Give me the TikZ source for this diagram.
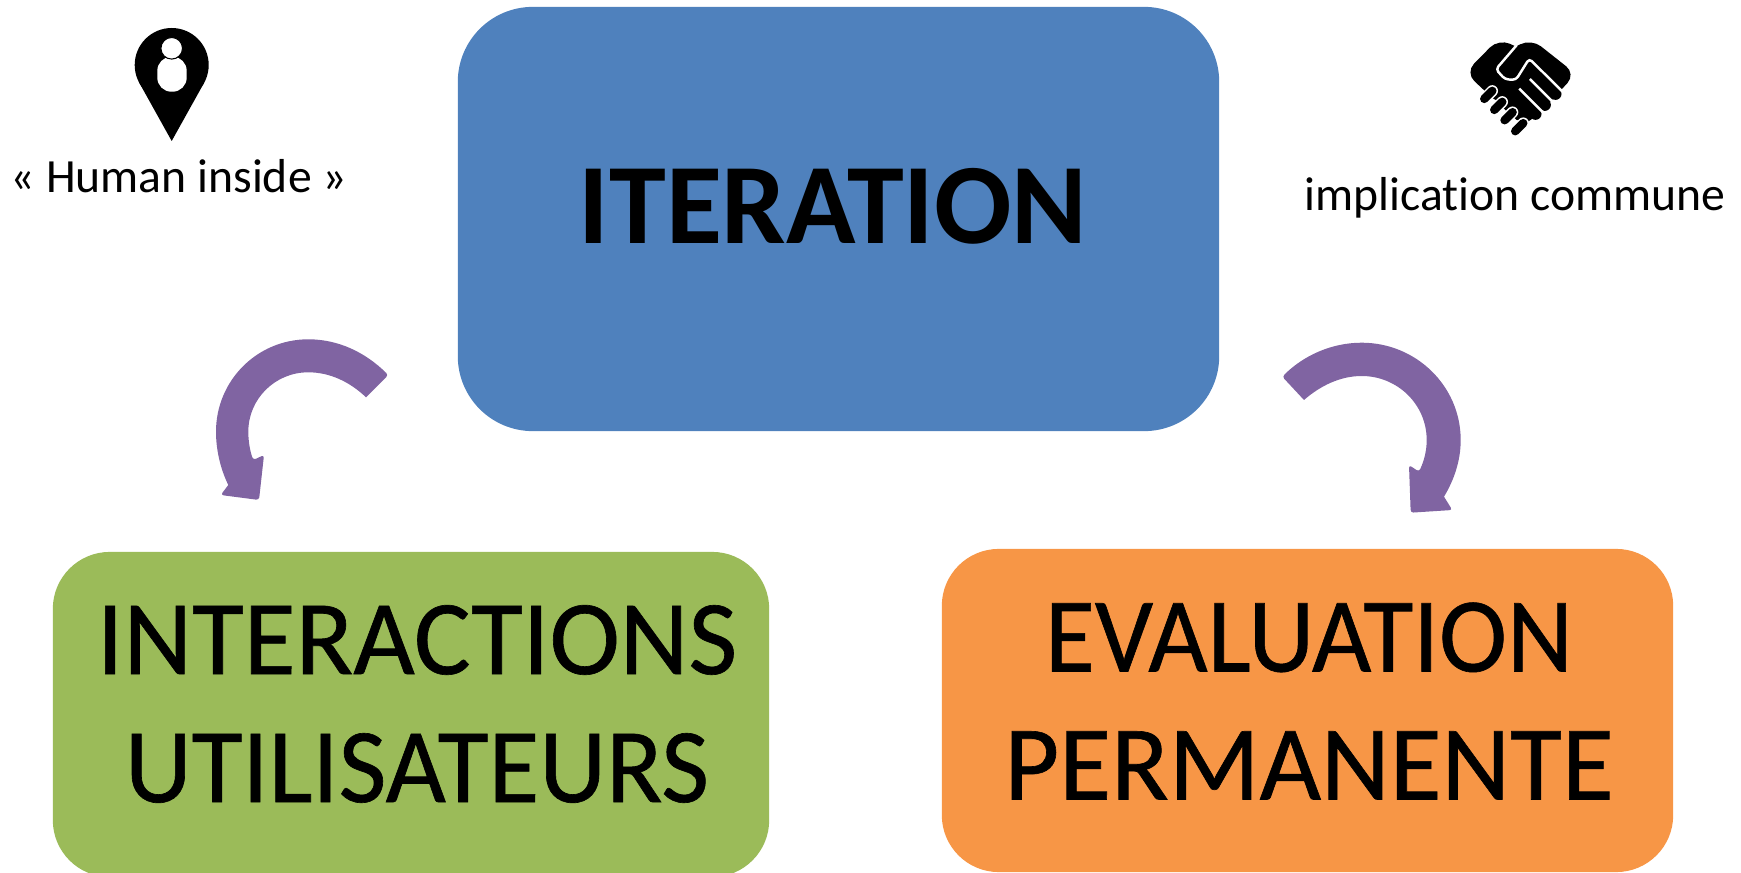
\documentclass[tikz,border=0pt]{standalone}
\usepackage{fontspec}
\setmainfont{Carlito}[Ligatures=NoCommon]
\newfontfamily\heavyfont{Carlito}[Ligatures=NoCommon, FakeBold=0.6]
\definecolor{iterblue}{HTML}{4F81BD}
\definecolor{usergreen}{HTML}{9BBB59}
\definecolor{evalorange}{HTML}{F79646}
\definecolor{turnpurple}{HTML}{8064A2}
\tikzset{
	bigbox/.style={rounded corners=#1, inner sep=0pt},
	biglabel/.style={inner sep=0pt, align=center, font=\heavyfont\fontsize{30.2}{36.4}\selectfont},
	smalllabel/.style={inner sep=0pt, anchor=base, font=\fontsize{13.55}{15}\selectfont},
	turn/.style={fill=turnpurple, sharp corners},
	tip/.style={rounded corners=0.8pt},
	gap/.style={white, line width=0.7pt},
	finger/.style={black, line width=1.2mm, line cap=round},
	knuckle/.style={black, line width=0.85mm, line cap=round},
	knucklegap/.style={white, line width=1.15mm, line cap=round}
}
\begin{document}
\begin{tikzpicture}[x=0.01cm, y=-0.01cm]
	\clip (0,0) rectangle (1741,873);
	\node[bigbox=0.75cm, fill=iterblue, minimum width=7.61cm, minimum height=4.24cm] (iter) at (838.5,219) {};
	\node[bigbox=0.57cm, fill=usergreen, minimum width=7.16cm, minimum height=3.25cm] (user) at (411,714.5) {};
	\node[bigbox=0.57cm, fill=evalorange, minimum width=7.31cm, minimum height=3.23cm] (eval) at (1307.5,710.5) {};
	\node[biglabel, font=\fontsize{32.6}{36}\selectfont\bfseries] (iterlabel) at (833,206.5) {ITERATION};
	\node[biglabel] (userlabel) at (417,704) {INTERACTIONS\\\scalebox{0.98}[1]{UTILISATEURS}};
	\node[biglabel] (evallabel) at (1309,701) {\scalebox{0.965}[1]{EVALUATION}\\PERMANENTE};
	\node[smalllabel] (humanlabel) at (179,193) {« Human inside »};
	\node[smalllabel] (communelabel) at (1515,211) {implication commune};
	% left arrow
	\path[turn] (388.3,375) .. controls (365,352) and (338,339.3) .. (308.3,339.3)
		.. controls (257,339.3) and (216,380.7) .. (216,431.7)
		.. controls (216,449) and (220,468) .. (228.3,485)
		[tip] -- (220.7,495) -- (259,500) -- (264,455) -- (253.3,460)
		[sharp corners] .. controls (250,451) and (248.3,441) .. (248.3,431.7)
		.. controls (248.3,399) and (275,372.3) .. (308.3,372.3)
		.. controls (330,372.3) and (350,382) .. (366,397.3) [tip] -- cycle;
	% right arrow
	\path[turn] (1282.3,376.7) .. controls (1303,356) and (1331,342.7) .. (1361.7,342.7)
		.. controls (1416,342.7) and (1460.7,386) .. (1460.7,440)
		.. controls (1460.7,461) and (1454,480) .. (1444,496.7)
		[tip] -- (1452.3,510) -- (1410.7,512.7) -- (1409,465) -- (1419,471.7)
		[sharp corners] .. controls (1424,461) and (1426.7,451) .. (1426.7,440)
		.. controls (1426.7,404) and (1397,376) .. (1361.7,376)
		.. controls (1340,376) and (1320,386) .. (1304,400) [tip] -- cycle;
	% pin
	\fill (171.7,65) circle (37);
	\fill (139.4,83) -- (171.7,141) -- (204,83) -- cycle;
	\fill[white, rounded corners=4pt] (157.3,56.7) rectangle (186.7,91.7);
	\draw[black, fill=white, line width=0.3pt] (171.7,48.3) circle (10.8);
	% handshake
	\begin{scope}[shift={(1460,30)}, x=0.00333cm, y=-0.00333cm]
		\fill[rounded corners=3.5pt] (120,226) -- (16,128) -- (116,26) -- (230,78) -- (230,200) -- cycle;
		\fill[rounded corners=3.5pt] (235,255) -- (348,132) -- (214,26) -- (100,85) -- (100,200) -- cycle;
		\fill (120,226) -- (170,270) -- (200,278) -- (235,255) -- (200,150) -- cycle;
		\draw[finger] (250,155) -- (287,192);
		\draw[finger] (218,188) -- (255,225);
		\draw[finger] (190,215) -- (227,252);
		\draw[gap, rounded corners=1pt] (170,46) -- (108,118) -- (135,148) -- (168,150) -- (208,86) -- (308,185);
		\draw[gap] (210,147) -- (284,221);
		\draw[gap] (178,176) -- (254,252);
		\foreach \kx/\ky in {85/195, 115/228, 146/259, 178/292} {
			\draw[knucklegap] (\kx-12,\ky+12) -- (\kx+12,\ky-12);
			\draw[knuckle] (\kx-12,\ky+12) -- (\kx+12,\ky-12);
		}
	\end{scope}
\end{tikzpicture}
\end{document}
